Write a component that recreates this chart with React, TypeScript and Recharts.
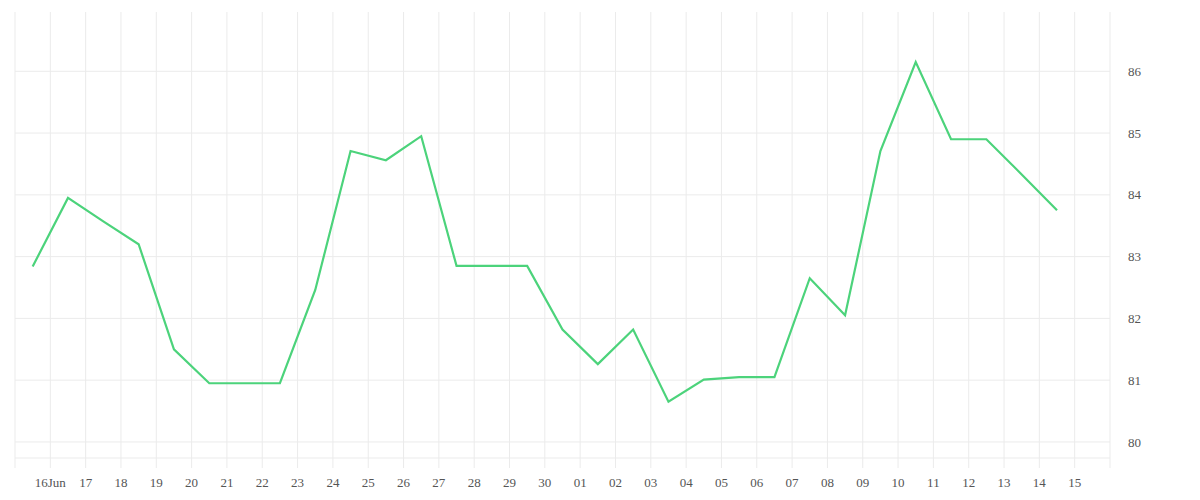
import { LineChart, Line, XAxis, YAxis, CartesianGrid } from "recharts";

// one reading per day, plotted at noon
const pointDays = [
  "06-15", "06-16", "06-17", "06-18", "06-19", "06-20", "06-21", "06-22",
  "06-23", "06-24", "06-25", "06-26", "06-27", "06-28", "06-29", "06-30",
  "07-01", "07-02", "07-03", "07-04", "07-05", "07-06", "07-07", "07-08",
  "07-09", "07-10", "07-11", "07-12", "07-13", "07-14",
];

const scores = [
  82.84, 83.95, 83.57, 83.2, 81.5, 80.95, 80.95, 80.95,
  82.46, 84.71, 84.56, 84.95, 82.85, 82.85, 82.85, 81.82,
  81.26, 81.82, 80.65, 81.01, 81.05, 81.05, 82.65, 82.05,
  84.71, 86.15, 84.9, 84.9, 84.33, 83.75,
];

// midnight ticks from Jun 15 to Jul 16
const tickLabels = [
  "", "16Jun", "17", "18", "19", "20", "21", "22", "23", "24", "25", "26",
  "27", "28", "29", "30", "01", "02", "03", "04", "05", "06", "07", "08",
  "09", "10", "11", "12", "13", "14", "15", "",
];

const yTicks = [80, 81, 82, 83, 84, 85, 86];

const YEAR = 2024;
const DAY = 86400000;
const START = Date.UTC(YEAR, 5, 15);

const toTime = (md: string, hour: number) => {
  const [m, d] = md.split("-").map(Number);
  return Date.UTC(YEAR, m - 1, d, hour);
};

const data = pointDays.map((d, i) => ({ t: toTime(d, 12), score: scores[i] }));
const xTicks = tickLabels.map((_, i) => START + i * DAY);

const GRID = "#ebebeb";
const FONT = { fill: "#555", fontSize: 13, fontFamily: "Liberation Serif" };

export default function App() {
  return (
    <LineChart
      width={1184}
      height={484}
      data={data}
      margin={{ top: 4, right: 0, bottom: 0, left: 7 }}
    >
      <CartesianGrid
        stroke={GRID}
        horizontalValues={yTicks}
        verticalValues={xTicks}
      />
      <XAxis
        dataKey="t"
        type="number"
        scale="linear"
        domain={[xTicks[0], xTicks[xTicks.length - 1]]}
        ticks={xTicks}
        interval={0}
        tickFormatter={(v: number) => tickLabels[Math.round((v - START) / DAY)]}
        tick={FONT}
        tickSize={10}
        tickMargin={10}
        tickLine={{ stroke: GRID }}
        axisLine={{ stroke: GRID }}
        height={34}
      />
      <YAxis
        orientation="right"
        domain={[79.74, 86.96]}
        ticks={yTicks}
        allowDataOverflow
        tick={{ ...FONT, textAnchor: "start" }}
        tickLine={false}
        axisLine={false}
        tickSize={6}
        tickMargin={12}
        width={82}
      />
      <Line
        dataKey="score"
        type="linear"
        stroke="#4cd37b"
        strokeWidth={2.2}
        dot={false}
        isAnimationActive={false}
      />
    </LineChart>
  );
}
